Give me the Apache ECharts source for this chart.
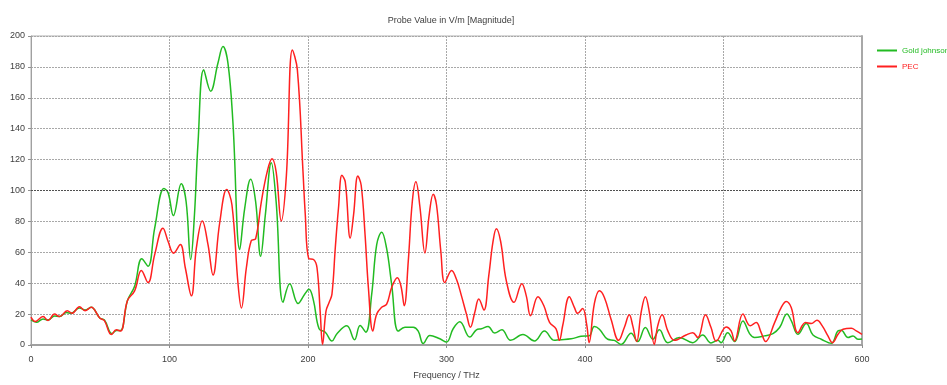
<!DOCTYPE html>
<html>
<head>
<meta charset="utf-8">
<script src="https://cdn.jsdelivr.net/npm/echarts@6/dist/echarts.min.js"></script>
<style>
  html, body { margin: 0; padding: 0; background: #ffffff; }
  #chart { width: 947px; height: 385px; }
</style>
</head>
<body>
<div id="chart"></div>
<script>
// Probe field magnitude vs frequency for two conductor models
const chartTitle = 'Probe Value in V/m [Magnitude]';
const xAxisName = 'Frequency / THz';
const seriesNames = ['Gold johnson', 'PEC'];
const xTicks = { min: 0, max: 600, step: 100 };
const yTicks = { min: 0, max: 200, step: 20 };

// Gold (Johnson & Christy) probe magnitude
const goldFreq = [
  0, 3.9, 8.7, 12.3, 17, 20.7, 25.5, 29, 35, 39,
  43.5, 49.6, 53, 58.5, 61.6, 64.7, 69.6, 74.8, 80, 84.5,
  89.3, 96, 99, 102.8, 108.5, 112, 115.3, 118, 120.6, 124.7,
  129.7, 135, 138.6, 142.2, 145.8, 150.7, 154.3, 158.6, 162.2, 165.8,
  169.2, 173.5, 177, 182, 186.8, 192.8, 197.6, 200.7, 204, 208,
  212.5, 217.3, 220.9, 228, 233.6, 237.6, 241.7, 246, 249.6, 253.2,
  256.7, 260.4, 265.2, 270, 276, 279.6, 283.2, 288, 295.2, 300,
  304.8, 309.6, 316.8, 321.6, 325.2, 330, 334.8, 340, 346.3, 355.2,
  363.5, 370.7, 377.9, 381.5, 390, 397.1, 403, 406.7, 410.4, 416.4,
  421.2, 426, 433.3, 438, 443.6, 449, 453.7, 459.8, 468.2, 477.8,
  485, 491, 496, 498.3, 503, 508, 514, 518.8, 522.4, 529.6,
  535.7, 540.5, 545.8, 549, 553.7, 559.8, 564.6, 570.6, 577.8, 582.7,
  585, 589.9, 593.5, 597, 600
];
const goldMag = [
  16.2, 14.7, 16.9, 16.2, 18.8, 18.4, 21, 20.5, 24, 22.6,
  24.4, 17.5, 16.2, 7.3, 9.4, 9.4, 28.6, 38, 55.8, 51,
  75.6, 101.3, 98.5, 83.8, 104.3, 92.7, 55.3, 84, 131, 178.2,
  164.3, 182.5, 193.2, 182.5, 144, 61.8, 88.5, 107.3, 92.7, 57.5,
  84.2, 118, 92.7, 27.6, 39.7, 26.9, 32.9, 36.1, 28.6, 10.5,
  8.3, 2.6, 7.3, 12.4, 3.4, 12.6, 8.3, 32.9, 65, 73,
  62.8, 39.3, 9, 11.5, 11.5, 9, 0.9, 6.2, 4, 1.9,
  10.5, 15, 5.1, 9.8, 10.5, 12, 7.7, 9.8, 3, 6.8,
  2.6, 9, 3, 3.4, 4, 5.6, 5.9, 11.9, 10.2, 3.7,
  3, 0.4, 7.6, 2.2, 11.3, 3.7, 9.8, 1.5, 4.8, 1.5,
  6.5, 1.3, 3, 1.5, 8, 2.2, 15.6, 7.4, 4.8, 5.9,
  7.4, 11.3, 20, 15.6, 6.9, 13.9, 6.5, 3.7, 1.1, 9.1,
  9.5, 4.8, 5.9, 3.7, 3.9
];

// Perfect electric conductor probe magnitude
const pecFreq = [
  0, 3.1, 8.7, 12.3, 17, 20.7, 26.2, 29.6, 35, 39,
  43.5, 49.6, 53, 58, 61.6, 64.7, 69.6, 74.8, 79.7, 84.5,
  89.3, 95.3, 99, 103, 107.8, 111.4, 115.8, 119.4, 123.7, 127.8,
  131.4, 136.2, 141.3, 145.1, 149.5, 151.9, 155.5, 159, 162.2, 166.3,
  170.6, 174, 177, 180.7, 184.4, 188.7, 192.3, 196.4, 198, 200.5,
  204, 206.5, 208.9, 210.5, 213, 215.3, 217.3, 219.7, 222, 224.5,
  226.9, 230.5, 232.9, 236, 238.4, 241.2, 243.6, 246.8, 249.6, 253.2,
  256.8, 260.4, 264.5, 267.1, 269.5, 272.4, 275.3, 277.9, 280.8, 284.4,
  287.5, 290.4, 292.8, 295.9, 298.8, 303.7, 307.2, 310.8, 314.4, 317.3,
  320.4, 323.3, 327, 330.5, 333.6, 336, 339.1, 343.2, 348.7, 354.4,
  357.6, 360.7, 366, 370.3, 374.4, 379.1, 381.5, 383.9, 388.7, 392.3,
  394.7, 398.3, 401.2, 403, 406.7, 410.4, 414, 418.8, 424.3, 428.4,
  432, 434.5, 437.3, 440.5, 443.6, 446.5, 450, 452.5, 455.7, 459.8,
  464.6, 473, 477.8, 481.4, 487, 491, 494.7, 502, 505.5, 508,
  514, 519.3, 523.6, 527.2, 530.4, 536.9, 541.7, 545.3, 548.9, 553.7,
  559.3, 563.4, 567.5, 571.3, 575.4, 578.6, 582.7, 586.3, 592.3, 595.9, 600
];
const pecMag = [
  18, 15.2, 18.4, 15.8, 20, 18.4, 22.2, 20.5, 24.8, 22.2,
  24.4, 17.5, 15.8, 6.8, 9.8, 9, 28.6, 35, 48.3, 40.4,
  58.5, 75.6, 67, 59.4, 65, 50, 31.8, 62.8, 80.3, 65,
  45.3, 78.8, 100.6, 90.6, 39.3, 23.9, 50, 67.5, 68.8, 92.7,
  112.4, 120.5, 112, 80.3, 109.8, 191, 178.2, 112, 85, 56,
  55.3, 50, 20, 0.4, 22, 27.6, 32.9, 62.8, 88.5, 109.8,
  105.6, 69.2, 84.2, 109.4, 103.4, 71.4, 37.2, 9, 20, 24.4,
  26.5, 37.2, 43.6, 38.2, 25.4, 54.3, 92.7, 105.6, 89.5, 59.6,
  84.2, 97.6, 90.6, 60.7, 40.4, 48.3, 42.5, 31.8, 20, 11.5,
  21, 29.7, 22.6, 44.7, 67, 75.2, 67, 41.5, 27.6, 39.7,
  31.8, 19, 31.2, 25.4, 14.7, 10.5, 3, 12.6, 31.2, 24.4,
  20.5, 23.7, 13.4, 1.5, 26.5, 35.1, 30.8, 16.7, 3, 11.3,
  19.5, 12.4, 2.2, 21, 31.2, 21, 0.4, 12.4, 19.5, 9.1,
  3, 6.5, 8, 4.8, 19.5, 11.3, 2.6, 11.7, 9.1, 2.6,
  20, 12.4, 14.5, 8, 2.2, 14.5, 24.3, 28.2, 24.3, 8,
  14.5, 13.9, 16, 12.4, 5.9, 1.5, 6.9, 10.2, 10.8, 9.1, 6.9
];

const zip = (xs, ys) => xs.map((x, i) => [x, ys[i]]);

const FONT = '"Liberation Sans", Arial, sans-serif';
const TEXT = '#404040';
const GREEN = '#22bb22';
const RED = '#ff2020';

const chart = echarts.init(document.getElementById('chart'), null, { renderer: 'canvas' });

chart.setOption({
  animation: false,
  backgroundColor: '#ffffff',
  textStyle: { fontFamily: FONT },
  title: {
    text: chartTitle,
    left: 446,
    top: 11,
    textAlign: 'center',
    textStyle: { fontFamily: FONT, fontSize: 9, fontWeight: 'normal', color: TEXT }
  },
  legend: {
    orient: 'vertical',
    left: 872,
    top: 40,
    itemWidth: 20,
    itemHeight: 2,
    itemGap: 5,
    icon: 'rect',
    textStyle: { fontFamily: FONT, fontSize: 8, lineHeight: 11 },
    data: [
      { name: seriesNames[0], textStyle: { color: GREEN } },
      { name: seriesNames[1], textStyle: { color: RED } }
    ]
  },
  grid: {
    left: 31, right: 85, top: 36, bottom: 37,
    show: true,
    borderColor: '#b0b0b0',
    borderWidth: 1
  },
  xAxis: {
    type: 'value',
    min: xTicks.min,
    max: xTicks.max,
    interval: xTicks.step,
    name: xAxisName,
    nameLocation: 'middle',
    nameGap: 26,
    nameTextStyle: { fontFamily: FONT, fontSize: 9, color: TEXT },
    axisLine: { show: true, lineStyle: { color: '#a0a0a0', width: 2 } },
    axisTick: { show: true, length: 3, lineStyle: { color: '#909090' } },
    axisLabel: { fontFamily: FONT, fontSize: 9, color: TEXT, margin: 10 },
    splitLine: { show: true, lineStyle: { color: '#a8a8a8', type: [2, 1], width: 1 } }
  },
  yAxis: [
    {
      type: 'value',
      min: yTicks.min,
      max: yTicks.max,
      interval: yTicks.step,
      axisLine: { show: true, lineStyle: { color: '#a0a0a0', width: 1 } },
      axisTick: { show: true, length: 3, lineStyle: { color: '#909090' } },
      axisLabel: { fontFamily: FONT, fontSize: 9, color: TEXT, margin: 6 },
      splitLine: { show: true, lineStyle: { color: '#a8a8a8', type: [2, 1], width: 1 } }
    },
    {
      type: 'value',
      position: 'right',
      min: yTicks.min,
      max: yTicks.max,
      interval: yTicks.step,
      axisLine: { show: true, lineStyle: { color: '#a8a8a8', width: 2 } },
      axisTick: { show: false },
      axisLabel: { show: false },
      splitLine: { show: false }
    }
  ],
  series: [
    {
      name: seriesNames[0],
      type: 'line',
      yAxisIndex: 0,
      data: zip(goldFreq, goldMag),
      smooth: 0.4,
      showSymbol: false,
      color: GREEN,
      lineStyle: { width: 1.5, color: GREEN },
      markLine: {
        silent: true,
        symbol: 'none',
        label: { show: false },
        lineStyle: { color: '#505050', type: [2, 1], width: 1 },
        data: [{ yAxis: 100 }]
      },
      z: 3
    },
    {
      name: seriesNames[1],
      type: 'line',
      yAxisIndex: 0,
      data: zip(pecFreq, pecMag),
      smooth: 0.4,
      showSymbol: false,
      color: RED,
      lineStyle: { width: 1.5, color: RED },
      z: 4
    }
  ]
});
</script>
</body>
</html>
